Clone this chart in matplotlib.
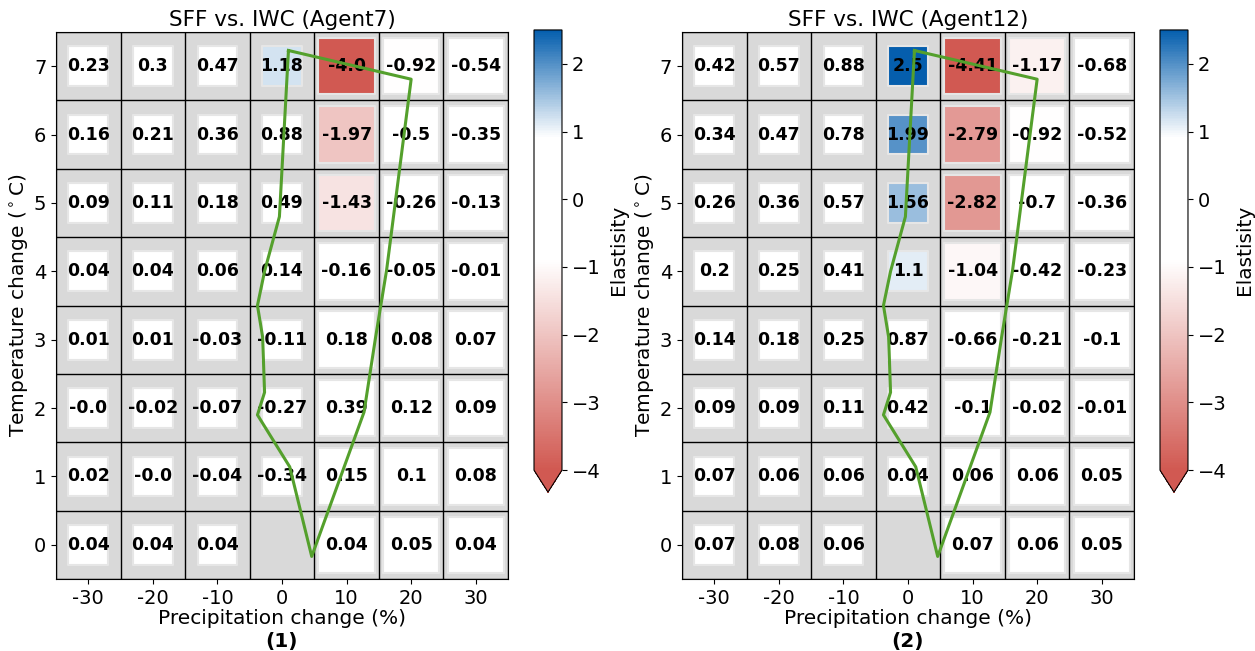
import numpy as np
import matplotlib
matplotlib.use("Agg")
import matplotlib.pyplot as plt
from matplotlib.colors import LinearSegmentedColormap, Normalize

# precipitation change (%) columns, temperature change rows
precip = [-30, -20, -10, 0, 10, 20, 30]
temps = [0, 1, 2, 3, 4, 5, 6, 7]

# elasticity values, rows from temp 0 up to 7
agent7 = [
    [0.04, 0.04, 0.04, np.nan, 0.04, 0.05, 0.04],
    [0.02, -0.0, -0.04, -0.34, 0.15, 0.1, 0.08],
    [-0.0, -0.02, -0.07, -0.27, 0.39, 0.12, 0.09],
    [0.01, 0.01, -0.03, -0.11, 0.18, 0.08, 0.07],
    [0.04, 0.04, 0.06, 0.14, -0.16, -0.05, -0.01],
    [0.09, 0.11, 0.18, 0.49, -1.43, -0.26, -0.13],
    [0.16, 0.21, 0.36, 0.88, -1.97, -0.5, -0.35],
    [0.23, 0.3, 0.47, 1.18, -4.0, -0.92, -0.54],
]
agent12 = [
    [0.07, 0.08, 0.06, np.nan, 0.07, 0.06, 0.05],
    [0.07, 0.06, 0.06, 0.04, 0.06, 0.06, 0.05],
    [0.09, 0.09, 0.11, 0.42, -0.1, -0.02, -0.01],
    [0.14, 0.18, 0.25, 0.87, -0.66, -0.21, -0.1],
    [0.2, 0.25, 0.41, 1.1, -1.04, -0.42, -0.23],
    [0.26, 0.36, 0.57, 1.56, -2.82, -0.7, -0.36],
    [0.34, 0.47, 0.78, 1.99, -2.79, -0.92, -0.52],
    [0.42, 0.57, 0.88, 2.5, -4.41, -1.17, -0.68],
]

# outline of projected climate range (precip %, temp)
hull_p = [1, 20, 16.2, 14.5, 12.7, 4.6, 1.2, -3.8, -2.7, -3.0, -3.8, -2.7, -0.4, 1]
hull_t = [7.23, 6.81, 4.02, 3.04, 1.94, -0.17, 1.14, 1.9, 2.23, 3.04, 3.5, 4.0, 4.8, 7.23]

panels = [("SFF vs. IWC (Agent7)", agent7, "(1)"),
          ("SFF vs. IWC (Agent12)", agent12, "(2)")]

vmin, vmax = -4, 2.5
red = (0.82, 0.35, 0.32)
blue = (0.02, 0.37, 0.68)
nodes = [(0.0, red), ((-0.9 - vmin) / (vmax - vmin), "white"),
         ((0.92 - vmin) / (vmax - vmin), "white"), (1.0, blue)]
cmap = LinearSegmentedColormap.from_list("elast", nodes, N=256)
norm = Normalize(vmin, vmax)

fig = plt.figure(figsize=(12.55, 6.51), dpi=100)
ax_pos = [[0.0446, 0.1106, 0.3602, 0.8402], [0.5434, 0.1106, 0.3602, 0.8402]]
cb_pos = [[0.4255, 0.244, 0.0223, 0.71], [0.9243, 0.244, 0.0223, 0.71]]

for k, (title, vals, tag) in enumerate(panels):
    ax = fig.add_axes(ax_pos[k])
    vals = np.array(vals)
    xx, yy = np.meshgrid(np.arange(len(precip)), np.arange(len(temps)))
    ok = ~np.isnan(vals)
    # bigger squares for wetter columns
    sizes = np.where(xx >= 4, 1650, 820)
    ax.set_facecolor("#d9d9d9")
    sc = ax.scatter(xx[ok], yy[ok], c=vals[ok], s=sizes[ok], marker="s",
                    cmap=cmap, norm=norm, edgecolors="#e6e6e6", linewidths=1.5,
                    zorder=2)
    for i in range(len(temps)):
        for j in range(len(precip)):
            if ok[i, j]:
                ax.text(j, i, str(vals[i, j]), ha="center", va="center",
                        fontsize=12.5, fontweight="bold", zorder=4)
    ax.plot(np.array(hull_p) / 10 + 3, hull_t, color="#54a02c", lw=2.2, zorder=5)

    ax.set_xlim(-0.5, len(precip) - 0.5)
    ax.set_ylim(-0.5, len(temps) - 0.5)
    ax.set_xticks(range(len(precip)))
    ax.set_xticklabels([str(p) for p in precip])
    ax.set_yticks(range(len(temps)))
    ax.set_yticklabels([str(t) for t in temps])
    ax.set_xticks(np.arange(-0.5, len(precip)), minor=True)
    ax.set_yticks(np.arange(-0.5, len(temps)), minor=True)
    ax.grid(which="minor", color="black", lw=1, zorder=3)
    ax.tick_params(which="minor", length=0)
    ax.tick_params(which="major", labelsize=14)
    ax.set_axisbelow(False)
    ax.set_title(title, fontsize=15.5, pad=4)
    ax.set_xlabel("Precipitation change (%)", fontsize=14.5, labelpad=1)
    ax.set_ylabel("Temperature change ($^\\circ$C)", fontsize=14.5, labelpad=3)
    ax.text(0.5, -0.115, tag, transform=ax.transAxes, ha="center", va="center",
            fontsize=14.5, fontweight="bold")

    cax = fig.add_axes(cb_pos[k])
    cb = fig.colorbar(sc, cax=cax, extend="min", ticks=[-4, -3, -2, -1, 0, 1, 2])
    cb.ax.tick_params(labelsize=14)
    cb.set_label("Elastisity", fontsize=14.5, labelpad=6)

fig.savefig("out.png", dpi=100)
